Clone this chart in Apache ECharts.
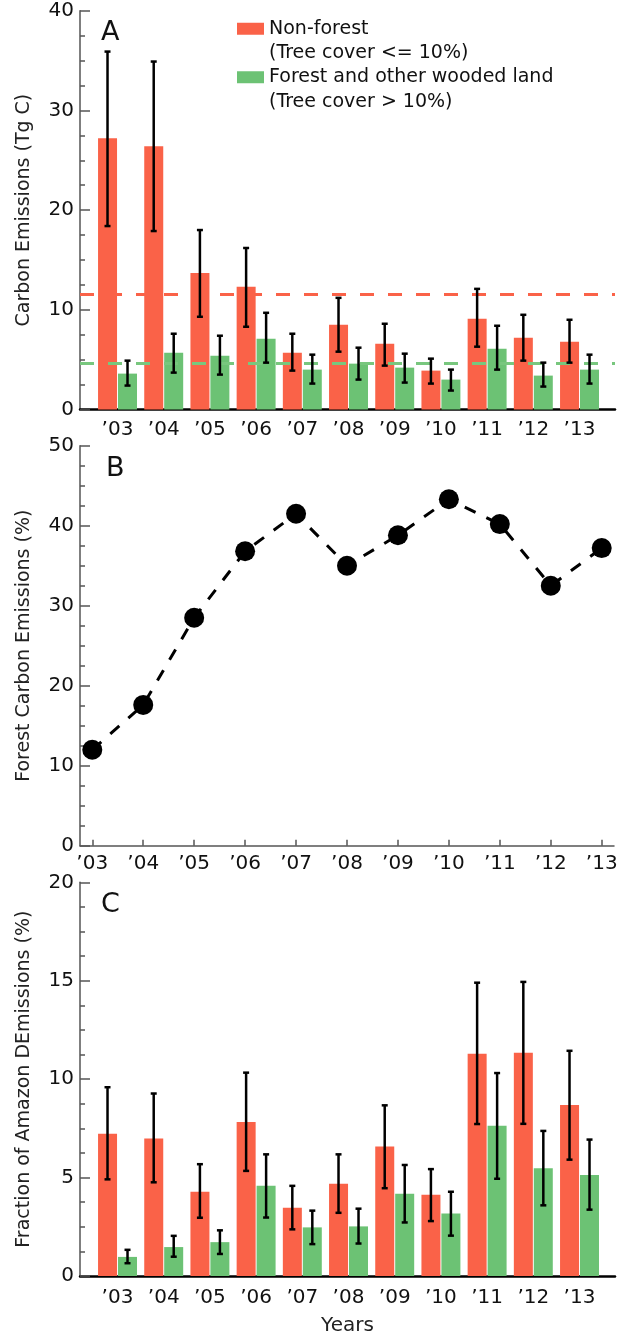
<!DOCTYPE html>
<html lang="en">
<head>
<meta charset="UTF-8">
<title>Carbon Emissions</title>
<script src="https://cdn.jsdelivr.net/npm/echarts@6/dist/echarts.min.js"></script>
<style>
    body { margin: 0; background: #fff; }
    #chart { width: 629px; height: 1337px; }
</style>
</head>
<body>
<div id="chart"></div>
<script>
    const years = ['’03', '’04', '’05', '’06', '’07', '’08', '’09', '’10', '’11', '’12', '’13'];

    // panel A: carbon emissions (Tg C)
    const nonForest   = [27.2, 26.4, 13.7, 12.3, 5.7, 8.5, 6.6, 3.9, 9.1, 7.2, 6.8];
    const nonForestLo = [18.4, 17.9, 9.3, 8.3, 3.9, 5.8, 4.4, 2.6, 6.3, 4.9, 4.7];
    const nonForestHi = [35.9, 34.9, 18.0, 16.2, 7.6, 11.2, 8.6, 5.1, 12.1, 9.5, 9.0];
    const forest      = [3.6, 5.7, 5.4, 7.1, 4.0, 4.6, 4.2, 3.0, 6.1, 3.4, 4.0];
    const forestLo    = [2.4, 3.7, 3.5, 4.7, 2.6, 3.0, 2.7, 1.9, 4.0, 2.3, 2.6];
    const forestHi    = [4.9, 7.6, 7.4, 9.7, 5.5, 6.2, 5.6, 4.0, 8.4, 4.7, 5.5];

    // panel B: forest share of carbon emissions (%)
    const forestShare = [12.0, 17.6, 28.5, 36.8, 41.5, 35.0, 38.8, 43.3, 40.2, 32.5, 37.2];

    // panel C: fraction of Amazon emissions (%)
    const fracNon     = [7.23, 6.98, 4.28, 7.82, 3.47, 4.68, 6.58, 4.13, 11.29, 11.34, 8.69];
    const fracNonLo   = [4.91, 4.76, 2.96, 5.34, 2.37, 3.21, 4.46, 2.79, 7.72, 7.73, 5.91];
    const fracNonHi   = [9.59, 9.27, 5.68, 10.33, 4.58, 6.18, 8.67, 5.43, 14.9, 14.94, 11.44];
    const fracFor     = [0.97, 1.47, 1.72, 4.58, 2.47, 2.52, 4.18, 3.17, 7.63, 5.48, 5.13];
    const fracForLo   = [0.65, 0.98, 1.12, 2.97, 1.62, 1.65, 2.72, 2.05, 4.94, 3.59, 3.37];
    const fracForHi   = [1.33, 2.04, 2.32, 6.18, 3.32, 3.42, 5.64, 4.28, 10.31, 7.37, 6.93];

    const RED = '#fa6248';
    const GREEN = '#6cc274';
    const FONT = 'DejaVu Sans';
    const idx = years.map((_, i) => i);
    const pairs = vals => vals.map((v, i) => [i, v]);
    const barOff = 0.2165; // bar centre offset in category units (ticks sit under each bar)
    const barTicks = idx.flatMap(i => [i - barOff, i + barOff]);

    function yAxis(gridIndex, max, interval, name) {
        return {
            type: 'value', gridIndex, min: 0, max, interval,
            name, nameLocation: 'middle', nameGap: 46,
            nameTextStyle: { fontFamily: FONT, fontSize: 19, color: '#222' },
            axisLine: { show: true, onZero: false, lineStyle: { color: '#555', width: 1.5 } },
            axisTick: { inside: true, length: 10, lineStyle: { color: '#555', width: 1.5 } },
            minorTick: { show: true, splitNumber: 4, length: 5, lineStyle: { color: '#555', width: 1.5 } },
            axisLabel: { fontFamily: FONT, fontSize: 20, color: '#111', margin: 6 },
            splitLine: { show: false }
        };
    }

    function xAxis(gridIndex, min, max, ticks, lineColor, lineWidth, margin, extra) {
        return Object.assign({
            type: 'value', gridIndex, min, max,
            axisLine: { show: true, onZero: false, lineStyle: { color: lineColor, width: lineWidth } },
            axisTick: { show: true, inside: true, length: 6, customValues: ticks, lineStyle: { color: lineColor, width: 1.5 } },
            axisLabel: {
                fontFamily: FONT, fontSize: 20, color: '#111', margin,
                customValues: idx,
                formatter: v => years[Math.round(v)]
            },
            splitLine: { show: false }
        }, extra || {});
    }

    function errorBars(xAxisIndex, yAxisIndex, lo, hi, shift) {
        return {
            type: 'custom', xAxisIndex, yAxisIndex, z: 5, silent: true,
            data: lo.map((l, i) => [i, l, hi[i]]),
            renderItem: (params, api) => {
                const p1 = api.coord([api.value(0), api.value(1)]);
                const p2 = api.coord([api.value(0), api.value(2)]);
                const x = p1[0] + shift;
                const style = { stroke: '#000', lineWidth: 2.5 };
                return {
                    type: 'group',
                    children: [
                        { type: 'line', shape: { x1: x, y1: p1[1], x2: x, y2: p2[1] }, style },
                        { type: 'line', shape: { x1: x - 3, y1: p1[1], x2: x + 3, y2: p1[1] }, style },
                        { type: 'line', shape: { x1: x - 3, y1: p2[1], x2: x + 3, y2: p2[1] }, style }
                    ]
                };
            }
        };
    }

    function avgLine(color) {
        return {
            silent: true, symbol: 'none', label: { show: false },
            lineStyle: { color, width: 3, type: [14, 14], opacity: 1 },
            data: [{ type: 'average' }]
        };
    }

    const chart = echarts.init(document.getElementById('chart'), null, { renderer: 'canvas' });
    chart.setOption({
        animation: false,
        textStyle: { fontFamily: FONT },
        title: [
            { text: 'A', left: 96, top: 14, textStyle: { fontFamily: FONT, fontSize: 27, fontWeight: 'normal', color: '#111' } },
            { text: 'B', left: 101, top: 450, textStyle: { fontFamily: FONT, fontSize: 27, fontWeight: 'normal', color: '#111' } },
            { text: 'C', left: 96, top: 886, textStyle: { fontFamily: FONT, fontSize: 27, fontWeight: 'normal', color: '#111' } }
        ],
        legend: {
            orient: 'vertical', left: 237, top: -8, padding: 0,
            itemWidth: 27, itemHeight: 12, itemGap: -25,
            icon: 'rect',
            // leading blank line keeps the swatch level with the first line of text
            formatter: name => '\n' + name,
            textStyle: { fontFamily: FONT, fontSize: 19, lineHeight: 24.5, color: '#111' },
            data: ['Non-forest\n(Tree cover <= 10%)', 'Forest and other wooded land\n(Tree cover > 10%)']
        },
        grid: [
            { left: 80, right: 14, top: 10.7, height: 398.8 },
            { left: 80, right: 15, top: 445.7, height: 400 },
            { left: 80, right: 14, top: 882.3, height: 399 }
        ],
        xAxis: [
            xAxis(0, -0.812, 10.768, barTicks, '#000', 2.5, 10),
            xAxis(1, -0.241, 10.241, idx, '#555', 1.5, 8),
            xAxis(2, -0.812, 10.768, barTicks, '#000', 2.5, 12, {
                name: 'Years', nameLocation: 'middle', nameGap: 40,
                nameTextStyle: { fontFamily: FONT, fontSize: 20, color: '#222' }
            })
        ],
        yAxis: [
            yAxis(0, 40, 10, 'Carbon Emissions (Tg C)'),
            yAxis(1, 50, 10, 'Forest Carbon Emissions (%)'),
            yAxis(2, 20, 5, 'Fraction of Amazon DEmissions (%)')
        ],
        series: [
            {
                name: 'Non-forest\n(Tree cover <= 10%)', type: 'bar', xAxisIndex: 0, yAxisIndex: 0,
                barWidth: 19, barGap: '5%', itemStyle: { color: RED },
                data: pairs(nonForest), markLine: avgLine(RED)
            },
            {
                name: 'Forest and other wooded land\n(Tree cover > 10%)', type: 'bar', xAxisIndex: 0, yAxisIndex: 0,
                barWidth: 19, barGap: '5%', itemStyle: { color: GREEN },
                data: pairs(forest), markLine: avgLine('#78c77e')
            },
            errorBars(0, 0, nonForestLo, nonForestHi, -10),
            errorBars(0, 0, forestLo, forestHi, 10),
            {
                type: 'line', xAxisIndex: 1, yAxisIndex: 1,
                data: pairs(forestShare),
                symbol: 'circle', symbolSize: 20,
                itemStyle: { color: '#000' },
                lineStyle: { color: '#000', width: 3, type: [12, 12] }
            },
            {
                name: 'Non-forest\n(Tree cover <= 10%)', type: 'bar', xAxisIndex: 2, yAxisIndex: 2,
                barWidth: 19, barGap: '5%', itemStyle: { color: RED },
                data: pairs(fracNon)
            },
            {
                name: 'Forest and other wooded land\n(Tree cover > 10%)', type: 'bar', xAxisIndex: 2, yAxisIndex: 2,
                barWidth: 19, barGap: '5%', itemStyle: { color: GREEN },
                data: pairs(fracFor)
            },
            errorBars(2, 2, fracNonLo, fracNonHi, -10),
            errorBars(2, 2, fracForLo, fracForHi, 10)
        ]
    });
</script>
</body>
</html>
